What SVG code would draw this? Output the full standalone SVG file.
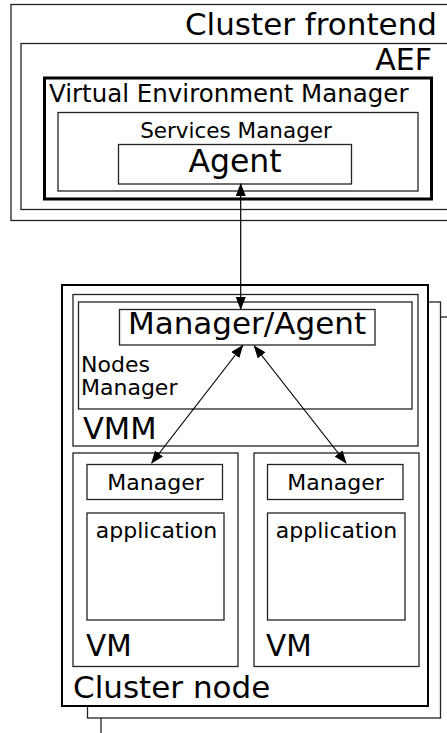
<svg xmlns="http://www.w3.org/2000/svg" width="447" height="733" viewBox="0 0 447 733">
<style>
.b{fill:#fff;stroke:#222;stroke-width:1.3}
.t{font-family:"DejaVu Sans",sans-serif;fill:#000}
.c{fill:none;stroke:#000;stroke-width:1.2}
</style>
<defs>
<marker id="ah" markerUnits="userSpaceOnUse" markerWidth="13" markerHeight="10" refX="12" refY="5" orient="auto-start-reverse" viewBox="0 0 13 10">
<path d="M0,0 L13,5 L0,10 z" fill="#000"/>
</marker>
</defs>
<g id="frontend">
<rect class="b" x="11" y="4.5" width="450" height="216"/>
<text class="t" x="437" y="35" font-size="31" text-anchor="end">Cluster frontend</text>
</g>
<g id="aef">
<rect class="b" x="21" y="43.5" width="440" height="166"/>
<text class="t" x="432" y="70" font-size="30" text-anchor="end">AEF</text>
</g>
<g id="vem">
<rect class="b" x="44.5" y="78" width="387" height="121" style="stroke-width:3;stroke:#000"/>
<text class="t" x="49" y="102" font-size="24.5">Virtual Environment Manager</text>
</g>
<g id="services">
<rect class="b" x="58" y="112.5" width="360" height="78.5"/>
<text class="t" x="236" y="138" font-size="21.5" text-anchor="middle">Services Manager</text>
</g>
<g id="agent">
<rect class="b" x="118.5" y="144.5" width="233" height="39.5"/>
<text class="t" x="235" y="172" font-size="31.5" text-anchor="middle">Agent</text>
</g>
<g id="node-back2">
<rect class="b" x="101" y="317" width="360" height="430"/>
</g>
<g id="node-back1">
<rect class="b" x="87.5" y="302" width="353" height="416"/>
</g>
<g id="cluster-node">
<rect class="b" x="62" y="285" width="366" height="421" style="stroke-width:2;stroke:#000"/>
<text class="t" x="73" y="698" font-size="31">Cluster node</text>
</g>
<g id="vmm">
<rect class="b" x="73" y="294.5" width="345" height="151.5"/>
<text class="t" x="83" y="439" font-size="30.5">VMM</text>
</g>
<g id="nodes-manager">
<rect class="b" x="78.5" y="302" width="333.5" height="107"/>
<text class="t" x="81" y="372" font-size="22">Nodes</text>
<text class="t" x="81" y="394.5" font-size="22">Manager</text>
</g>
<g id="manager-agent">
<rect class="b" x="119.5" y="309.5" width="255.5" height="35.5"/>
<text class="t" x="247" y="334" font-size="31" text-anchor="middle">Manager/Agent</text>
</g>
<g id="vm1">
<rect class="b" x="73" y="453" width="165" height="213.5"/>
<text class="t" x="86" y="656" font-size="29.5">VM</text>
</g>
<g id="vm1-manager">
<rect class="b" x="87" y="464.5" width="135.5" height="35"/>
<text class="t" x="155.5" y="490" font-size="22" text-anchor="middle">Manager</text>
</g>
<g id="vm1-app">
<rect class="b" x="87" y="513" width="137" height="107"/>
<text class="t" x="156.5" y="538" font-size="22" text-anchor="middle">application</text>
</g>
<g id="vm2">
<rect class="b" x="254" y="453" width="165" height="213.5"/>
<text class="t" x="266" y="656" font-size="29.5">VM</text>
</g>
<g id="vm2-manager">
<rect class="b" x="267.5" y="464.5" width="135.5" height="35"/>
<text class="t" x="335.5" y="490" font-size="22" text-anchor="middle">Manager</text>
</g>
<g id="vm2-app">
<rect class="b" x="267.5" y="513" width="137.5" height="107"/>
<text class="t" x="336.5" y="538" font-size="22" text-anchor="middle">application</text>
</g>
<g id="connectors">
<line class="c" x1="240.7" y1="184" x2="240.7" y2="309" marker-start="url(#ah)" marker-end="url(#ah)"/>
<line class="c" x1="242.7" y1="345.5" x2="151.7" y2="463" marker-start="url(#ah)" marker-end="url(#ah)"/>
<line class="c" x1="254.3" y1="346" x2="346" y2="463" marker-start="url(#ah)" marker-end="url(#ah)"/>
</g>
</svg>
